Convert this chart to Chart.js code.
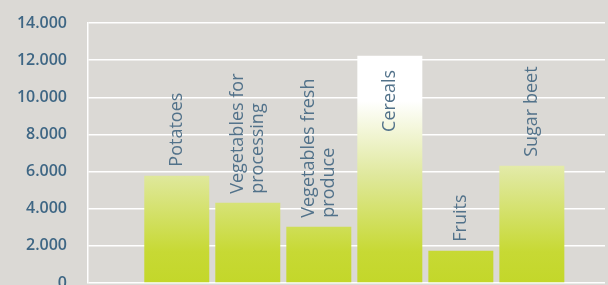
<!DOCTYPE html>
<html>
<head>
<meta charset="utf-8">
<script src="https://cdn.jsdelivr.net/npm/chart.js@4/dist/chart.umd.min.js"></script>
<style>
  html, body { margin: 0; padding: 0; background: #dbd9d5; }
  #wrap { width: 608px; height: 285px; position: relative; }
</style>
</head>
<body>
<div id="wrap"><canvas id="c"></canvas></div>
<script>
const categories = ['Potatoes', ['Vegetables for', 'processing'], ['Vegetables fresh', 'produce'], 'Cereals', 'Fruits', 'Sugar beet'];
const values = [5780, 4320, 3030, 12230, 1740, 6310];
const yTicks = [0, 2000, 4000, 6000, 8000, 10000, 12000, 14000];

const fmt = v => String(v).replace(/\B(?=(\d{3})+(?!\d))/g, '.');

const barLabels = {
  id: 'barLabels',
  afterDatasetsDraw(chart) {
    const ctx = chart.ctx;
    const meta = chart.getDatasetMeta(0);
    const area = chart.chartArea;
    const fontSize = 18, lineH = 20, gap = 9, inner = 14;
    ctx.save();
    ctx.font = '400 ' + fontSize + 'px "Open Sans"';
    ctx.fillStyle = '#52728a';
    ctx.textBaseline = 'middle';
    meta.data.forEach((bar, i) => {
      const raw = categories[i];
      const lines = Array.isArray(raw) ? raw : [raw];
      const len = Math.max(...lines.map(l => ctx.measureText(l).width));
      let startY, align;
      if (bar.y - gap - len < area.top) {
        startY = bar.y + inner; align = 'right';
      } else {
        startY = bar.y - gap; align = 'left';
      }
      ctx.save();
      ctx.translate(bar.x, startY);
      ctx.rotate(-Math.PI / 2);
      ctx.textAlign = align;
      const off = -(lines.length - 1) * lineH / 2;
      lines.forEach((l, k) => ctx.fillText(l, 0, off + k * lineH));
      ctx.restore();
    });
    ctx.restore();
  }
};

new Chart(document.getElementById('c'), {
  type: 'bar',
  data: {
    datasets: [{
      data: values.map((v, i) => ({ x: i, y: v })),
      backgroundColor: (c) => {
        const area = c.chart.chartArea;
        if (!area) return '#c5d82e';
        const g = c.chart.ctx.createLinearGradient(0, area.bottom, 0, area.top);
        g.addColorStop(0, '#c3d72a');
        g.addColorStop(0.12, '#c7d934');
        g.addColorStop(0.41, '#dfe89b');
        g.addColorStop(0.70, '#ffffff');
        g.addColorStop(1, '#ffffff');
        return g;
      },
      borderWidth: 0,
      categoryPercentage: 1,
      barPercentage: 0.915
    }]
  },
  options: {
    responsive: true,
    maintainAspectRatio: false,
    animation: false,
    layout: { padding: { top: 23, right: 3, bottom: 2, left: 0 } },
    plugins: { legend: { display: false }, tooltip: { enabled: false } },
    scales: {
      x: {
        type: 'linear',
        bounds: 'data',
        min: -1.25,
        max: 6.03,
        display: false,
        afterDataLimits(s) { s.min = -1.25; s.max = 6.03; },
        afterBuildTicks(s) { s.ticks = []; }
      },
      y: {
        min: 0,
        max: 14000,
        afterFit(s) { s.width = 88; s.paddingTop = 0; s.paddingBottom = 0; },
        afterBuildTicks(s) { s.ticks = yTicks.map(v => ({ value: v })); },
        grid: { color: '#ffffff', lineWidth: 1.5, drawTicks: false },
        border: { color: '#ffffff', width: 1.5 },
        ticks: {
          padding: 21,
          color: '#3e6684',
          font: { family: '"Open Sans"', size: 16, weight: '600' },
          callback: v => fmt(v)
        }
      }
    }
  },
  plugins: [barLabels]
});
</script>
</body>
</html>
